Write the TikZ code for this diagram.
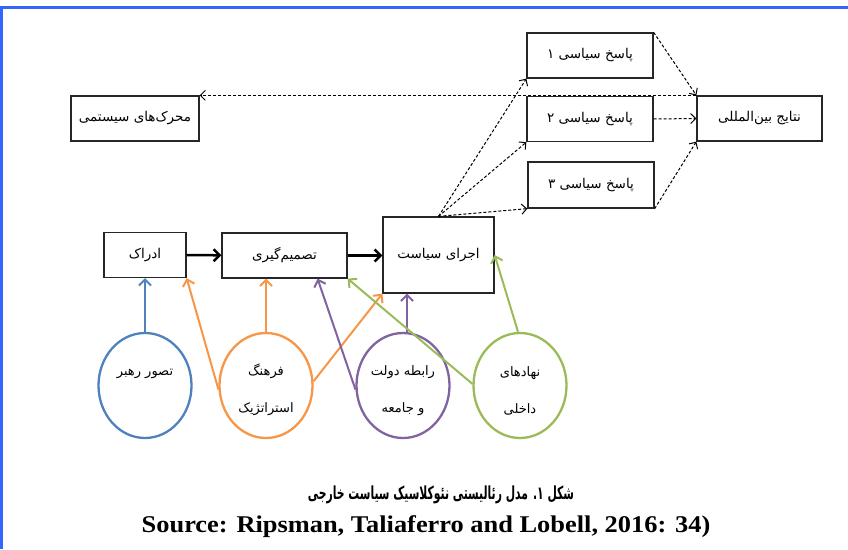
\documentclass[tikz,border=0pt]{standalone}
\usepackage{fontspec}
\setmainfont{Liberation Serif}
\newfontfamily\fa[Script=Arabic]{DejaVu Sans}
\TeXXeTstate=1
\usetikzlibrary{arrows.meta,shapes.geometric}
\newcommand{\fatxt}[1]{{\fa\beginR #1\endR}}
\newcommand{\highup}{\rule{0pt}{21pt}}
\definecolor{frameblue}{RGB}{51,102,255}
\definecolor{cblue}{RGB}{79,129,189}
\definecolor{corange}{RGB}{247,150,70}
\definecolor{cpurple}{RGB}{128,100,162}
\definecolor{cgreen}{RGB}{155,187,89}
\begin{document}
\begin{tikzpicture}[x=1pt,y=-1pt,
  box/.style={draw=black!85,line width=1.3pt,inner sep=0pt,minimum height=45pt,
    font=\fontsize{13.5}{15}\selectfont},
  circ/.style={ellipse,line width=2.3pt,inner sep=0pt,minimum width=93pt,minimum height=105pt,
    align=center,font=\fontsize{13}{37}\selectfont},
  main/.style={line width=2.5pt,-{Straight Barb[length=6pt,width=12pt]}},
  infl/.style={line width=2pt,-{Straight Barb[length=6pt,width=12pt]}},
  resp/.style={line width=1pt,dash pattern=on 3pt off 2pt,-{Straight Barb[length=5pt,width=10pt]}}]
  \useasboundingbox (0,0) rectangle (848,549);
  \draw[frameblue,line width=3pt] (0,7) -- (848,7);
  \draw[frameblue,line width=3pt] (1.5,7) -- (1.5,549);

  \node[box,minimum width=128pt] (motor) at (135,118.5) {\fatxt{محرک‌های سیستمی}};
  \node[box,minimum width=126pt] (resp1) at (590,55.5) {\fatxt{پاسخ سیاسی ۱}};
  \node[box,minimum width=126pt] (resp2) at (590,119) {\fatxt{پاسخ سیاسی ۲}};
  \node[box,minimum width=126pt,minimum height=46pt] (resp3) at (591,185) {\fatxt{پاسخ سیاسی ۳}};
  \node[box,minimum width=125pt] (result) at (759.5,118.5) {\fatxt{نتایج بین‌المللی}};
  \node[box,minimum width=82pt] (perc) at (145,255) {\fatxt{ادراک}};
  \node[box,minimum width=125pt] (dec) at (284.5,255.5) {\fatxt{تصمیم‌گیری}};
  \node[box,minimum width=111pt,minimum height=76pt] (impl) at (438.5,255) {\fatxt{اجرای سیاست}};

  \node[circ,draw=cblue] (leader) at (145,385.5) {\highup\fatxt{تصور رهبر}\\\fatxt{\phantom{و جامعه}}};
  \node[circ,draw=corange] (culture) at (266,385.5) {\highup\fatxt{فرهنگ}\\\fatxt{استراتژیک}};
  \node[circ,draw=cpurple] (society) at (403,385.5) {\highup\fatxt{رابطه دولت}\\\fatxt{و جامعه}};
  \node[circ,draw=cgreen] (inst) at (520,385.5) {\highup\fatxt{نهادهای}\\\fatxt{داخلی}};

  \draw[main] (perc) -- (dec);
  \draw[main] (dec.east) -- (impl.west |- dec.east);

  \draw[infl,cblue] (leader.north) -- (perc.south);
  \draw[infl,corange] (culture.185) -- (perc.south east);
  \draw[infl,corange] (culture.north) -- (culture.north |- dec.south);
  \draw[infl,corange] (culture.5) -- (impl.south west);
  \draw[infl,cpurple] (society.185) -- (dec.-35);
  \draw[infl,cpurple] ([xshift=4pt]society.north) -- ([xshift=4pt]society.north |- impl.south);
  \draw[infl,cgreen] (inst.178) -- (dec.south east);
  \draw[infl,cgreen] ([xshift=-2pt]inst.north) -- (impl.east);

  \draw[resp] (impl.north) -- (resp1.south west);
  \draw[resp] (impl.north) -- (resp2.south west);
  \draw[resp] (impl.north) -- (resp3.south west);
  \draw[resp] (resp1.north east) -- (result.north west);
  \draw[resp] (resp2.east) -- (result.west);
  \draw[resp] (resp3.south east) -- (result.south west);
  \draw[resp] (result.north west) -- (motor.north east);

  \node[font=\fontsize{18}{22}\selectfont\bfseries,xscale=0.6,transform shape] (title) at (441,495) {\fatxt{شکل ۱. مدل رئالیستی نئوکلاسیک سیاست خارجی}};
  \node[font=\fontsize{24}{28}\selectfont\bfseries,xscale=1.1,transform shape] (source) at (426,527) {Source: Ripsman, Taliaferro and Lobell, 2016: 34)};
\end{tikzpicture}
\end{document}
